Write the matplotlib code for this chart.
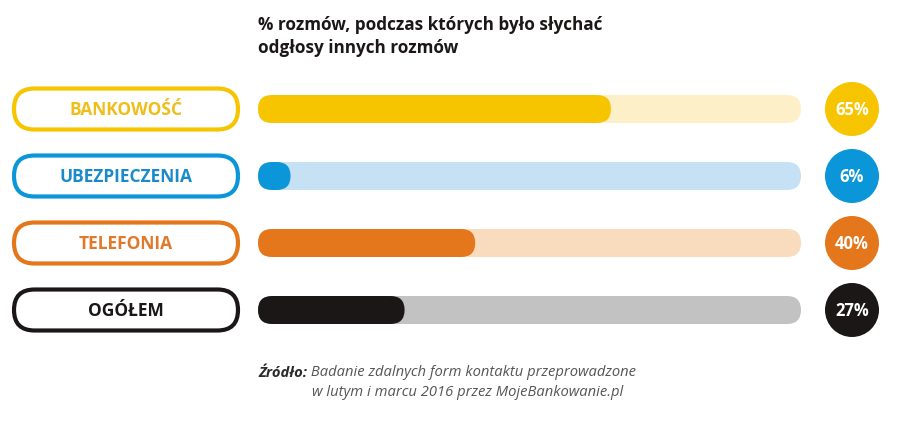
import matplotlib
matplotlib.use("Agg")
import matplotlib.pyplot as plt
from matplotlib.patches import FancyBboxPatch, Circle

categories = ["BANKOWOŚĆ", "UBEZPIECZENIA", "TELEFONIA", "OGÓŁEM"]
values = [65, 6, 40, 27]
main_colors = ["#F6C500", "#0A96D8", "#E4761C", "#1B1717"]
light_colors = ["#FDF0C9", "#C6E0F4", "#F9DBBE", "#C2C2C2"]
label_colors = ["#EDBE1C", "#1A8ACA", "#E2782A", "#1B1717"]

title_lines = ["% rozmów, podczas których było słychać", "odgłosy innych rozmów"]
source_bold = "Źródło:"
source_line1 = " Badanie zdalnych form kontaktu przeprowadzone"
source_line2 = "w lutym i marcu 2016 przez MojeBankowanie.pl"

plt.rcParams['font.family'] = ['Open Sans', 'DejaVu Sans']

W, H = 899, 421
fig = plt.figure(figsize=(W / 100, H / 100), dpi=100)
ax = fig.add_axes([0, 0, 1, 1])
ax.set_xlim(0, W)
ax.set_ylim(H, 0)
ax.axis('off')

# layout in pixels
row_y = [109, 176, 243, 310]
box_x0, box_x1, box_h = 14, 238, 41
track_x0, track_x1, bar_h = 258, 801, 28
circ_x, circ_r = 852, 27


def pill(x0, x1, y, h, **kw):
    # rounded bar from x0 to x1 centred on y
    r = h / 2
    p = FancyBboxPatch((x0 + r, y), max(x1 - x0 - 2 * r, 0.01), 0.0,
                       boxstyle="round,pad=%f" % (r - 0.01), **kw)
    ax.add_patch(p)


for i, cat in enumerate(categories):
    y = row_y[i]
    pill(box_x0, box_x1, y, box_h, fc='white', ec=main_colors[i], lw=3.0)
    ax.text((box_x0 + box_x1) / 2, y + 1, cat, ha='center', va='center',
            fontsize=12.5, fontweight='bold', color=label_colors[i])

    pill(track_x0, track_x1, y, bar_h, fc=light_colors[i], ec='none')
    fill_end = track_x0 + (track_x1 - track_x0) * values[i] / 100
    pill(track_x0, fill_end, y, bar_h, fc=main_colors[i], ec='none')

    ax.add_patch(Circle((circ_x, y), circ_r, fc=main_colors[i], ec='none'))
    ax.text(circ_x, y + 1, "%d%%" % values[i], ha='center', va='center',
            fontsize=12, fontweight='bold', color='white')

ax.text(258, 25, title_lines[0], ha='left', va='center', fontsize=12.3,
        fontweight='bold', color='#1B1717')
ax.text(258, 48, title_lines[1], ha='left', va='center', fontsize=12.3,
        fontweight='bold', color='#1B1717')

# source note
t_bold = ax.text(258, 373, source_bold, ha='left', va='center', fontsize=10.6,
                 fontweight='bold', style='italic', color='#2a2a2a')
fig.canvas.draw()
bb = t_bold.get_window_extent(fig.canvas.get_renderer())
x_after = bb.x1 * W / fig.bbox.width
ax.text(x_after, 373, source_line1, ha='left', va='center', fontsize=10.6,
        style='italic', color='#555555')
ax.text(312, 393, source_line2, ha='left', va='center', fontsize=10.6,
        style='italic', color='#555555')

fig.savefig("out.png", dpi=100)
